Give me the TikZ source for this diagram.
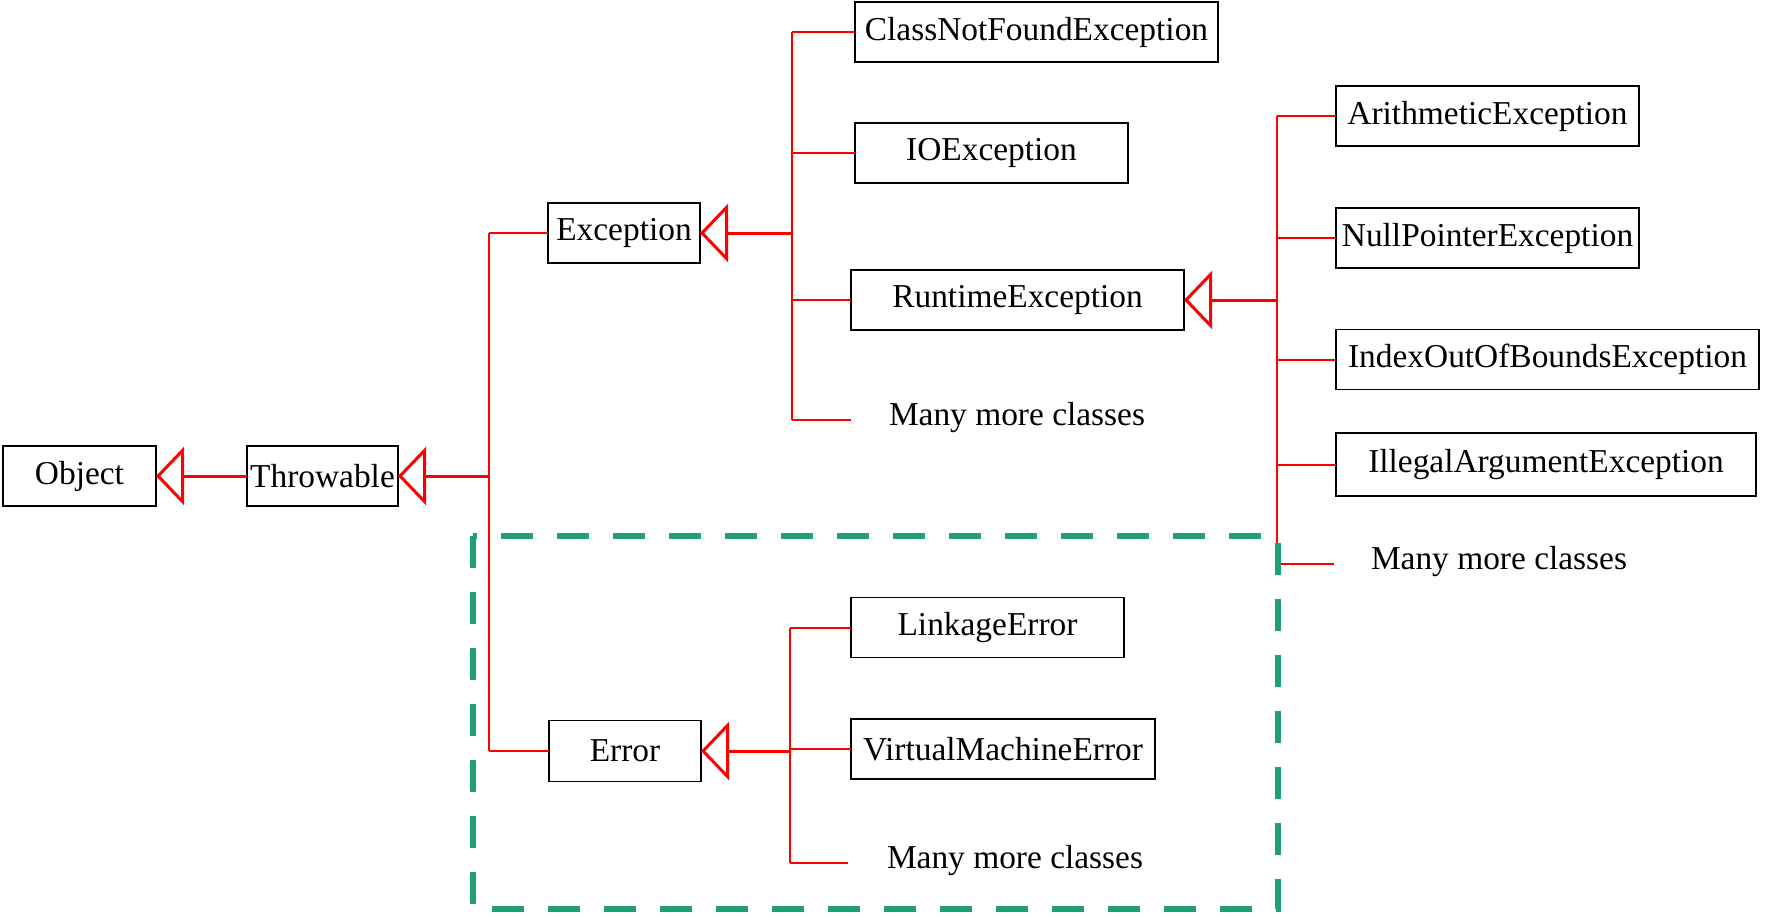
\documentclass[tikz,border=0pt]{standalone}
\usepackage{fontspec}
\setmainfont{Liberation Serif}
\usetikzlibrary{arrows.meta}
\definecolor{linkred}{RGB}{255,0,0}
\definecolor{boxgreen}{RGB}{32,158,122}

\begin{document}
\begin{tikzpicture}[x=0.5pt,y=0.5pt,yscale=-1,xscale=1,
  cls/.style={draw,line width=0.9pt,inner sep=0pt,outer sep=0pt,minimum height=30pt,font=\fontsize{16.7}{20}\selectfont},
  more/.style={inner sep=0pt,font=\fontsize{16.7}{20}\selectfont},
  link/.style={draw=linkred,line width=1pt},
  trunk/.style={draw=linkred,line width=1.4pt},
  inherit/.style={draw=linkred,line width=1.5pt,-{Triangle[open,length=14pt,width=29pt]}}]
\useasboundingbox (0,0) rectangle (1791,916);

% class boxes
\node[cls,minimum width=76.5pt] (object) at (79.5,476) {Object};
\node[cls,minimum width=75.5pt] (throwable) at (322.5,476) {Throwable};
\node[cls,minimum width=76pt] (exception) at (624,233) {Exception};
\node[cls,minimum width=76pt,minimum height=30.5pt] (error) at (625,751) {Error};
\node[cls,minimum width=181.5pt] (cnf) at (1036.5,32) {ClassNotFoundException};
\node[cls,minimum width=136.5pt] (io) at (991.5,153) {IOException};
\node[cls,minimum width=166.5pt] (runtime) at (1017.5,300) {RuntimeException};
\node[cls,minimum width=151.5pt] (arith) at (1487.5,116) {ArithmeticException};
\node[cls,minimum width=151.5pt] (nullptr) at (1487.5,238) {NullPointerException};
\node[cls,minimum width=211.5pt] (index) at (1547.5,359.5) {IndexOutOfBoundsException};
\node[cls,minimum width=210pt,minimum height=31.5pt] (illegal) at (1546,464.5) {IllegalArgumentException};
\node[cls,minimum width=136.5pt] (linkage) at (987.5,627.5) {LinkageError};
\node[cls,minimum width=152pt] (vme) at (1003,749) {VirtualMachineError};

% more classes
\node[more] (moreexc) at (1017,418) {Many more classes};
\node[more] (moreruntime) at (1499,562) {Many more classes};
\node[more] (moreerr) at (1015,860) {Many more classes};
\coordinate (moreexcend) at (851,420);
\coordinate (moreruntimeend) at (1334,564);
\coordinate (moreerrend) at (848,863);

% trunk columns
\coordinate (mainx) at (489,0);
\coordinate (excx) at (792,0);
\coordinate (runx) at (1277,0);
\coordinate (errx) at (790,0);

% Throwable -> Object
\draw[inherit] (throwable.west) -- (object.east);

% main trunk
\draw[trunk] (mainx |- exception.west) -- (mainx |- error.west);
\draw[inherit] (mainx |- throwable.east) -- (throwable.east);
\draw[link] (mainx |- exception.west) -- (exception.west);
\draw[link] (mainx |- error.west) -- (error.west);

% Exception subclasses
\draw[trunk] (excx |- cnf.west) -- (excx |- moreexcend);
\draw[inherit] (excx |- exception.east) -- (exception.east);
\draw[link] (excx |- cnf.west) -- (cnf.west);
\draw[link] (excx |- io.west) -- (io.west);
\draw[link] (excx |- runtime.west) -- (runtime.west);
\draw[link] (excx |- moreexcend) -- (moreexcend);

% RuntimeException subclasses
\draw[trunk] (runx |- arith.west) -- (runx |- moreruntimeend);
\draw[inherit] (runx |- runtime.east) -- (runtime.east);
\draw[link] (runx |- arith.west) -- (arith.west);
\draw[link] (runx |- nullptr.west) -- (nullptr.west);
\draw[link] (runx |- index.west) -- (index.west);
\draw[link] (runx |- illegal.west) -- (illegal.west);
\draw[link] (runx |- moreruntimeend) -- (moreruntimeend);

% Error subclasses
\draw[trunk] (errx |- linkage.west) -- (errx |- moreerrend);
\draw[inherit] (errx |- error.east) -- (error.east);
\draw[link] (errx |- linkage.west) -- (linkage.west);
\draw[link] (errx |- vme.west) -- (vme.west);
\draw[link] (errx |- moreerrend) -- (moreerrend);

% unchecked errors region
\draw[boxgreen,line width=3.2pt,dash pattern=on 16pt off 12pt] (473,536) rectangle (1278,909);
\end{tikzpicture}
\end{document}
